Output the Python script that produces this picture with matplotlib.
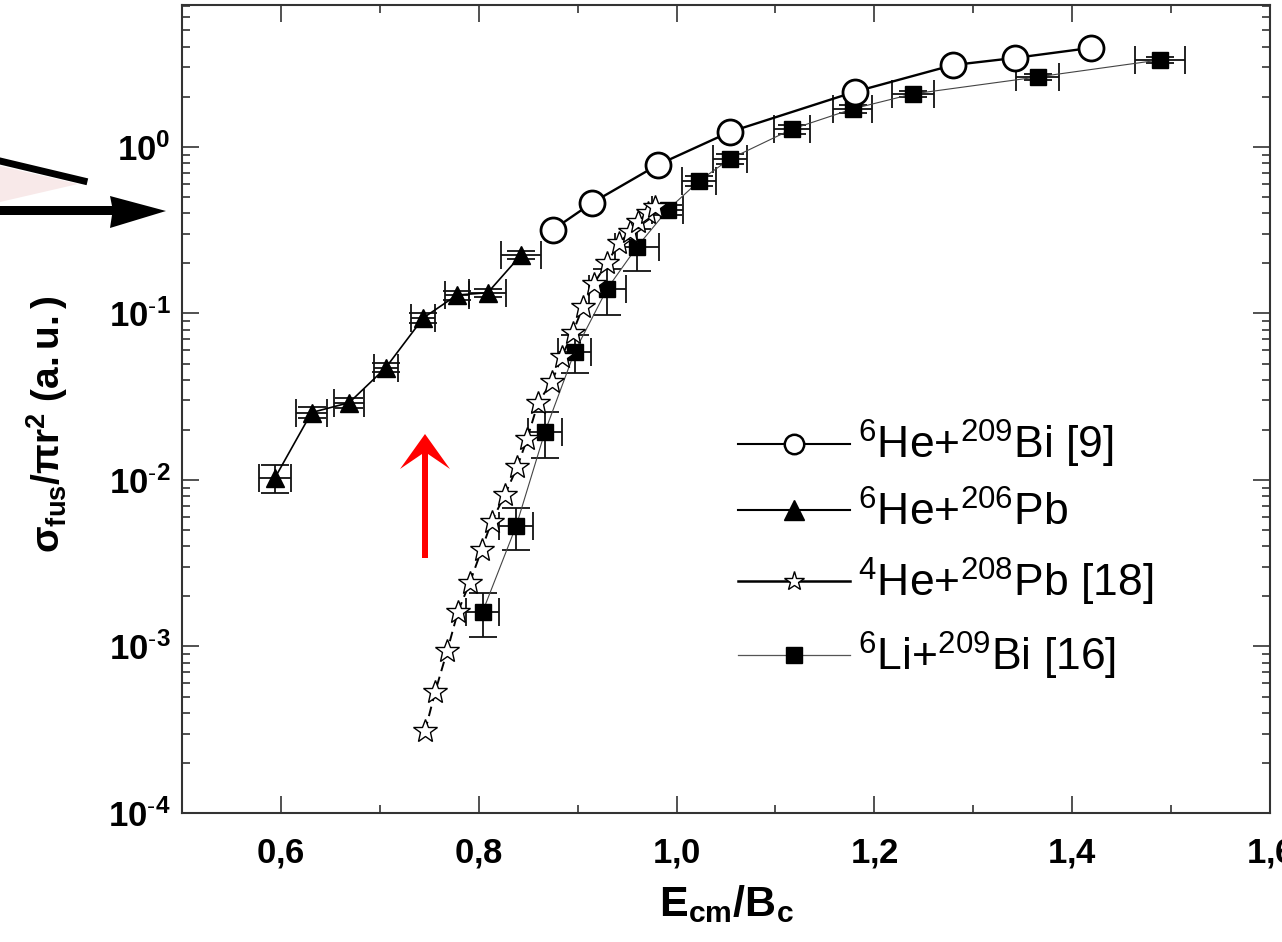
import numpy as np
import matplotlib
matplotlib.use('Agg')
import matplotlib.pyplot as plt
from matplotlib import font_manager
from matplotlib.lines import Line2D
from matplotlib.patches import Polygon
from matplotlib.ticker import FixedLocator, FuncFormatter, LogLocator, NullFormatter

# 6He + 209Bi [9]
he6_bi_x = [0.875, 0.9145, 0.981, 1.054, 1.180, 1.2795, 1.342, 1.419]
he6_bi_y = [0.318, 0.461, 0.780, 1.23, 2.14, 3.10, 3.42, 3.93]

# 6He + 206Pb
he6_pb_x = [0.594, 0.631, 0.669, 0.706, 0.744, 0.778, 0.809, 0.843]
he6_pb_y = [0.0103, 0.0254, 0.0291, 0.0472, 0.094, 0.129, 0.133, 0.225]
he6_pb_xerr = [0.016, 0.016, 0.015, 0.012, 0.012, 0.012, 0.019, 0.020]
he6_pb_yerr = [0.002, 0.002, 0.002, 0.003, 0.006, 0.008, 0.008, 0.012]

# 4He + 208Pb [18]
he4_pb_x = [0.7457, 0.7558, 0.768, 0.779, 0.791, 0.803, 0.813, 0.8266, 0.8387, 0.8488,
            0.860, 0.874, 0.884, 0.895, 0.9054, 0.9165, 0.9297, 0.942, 0.953, 0.961,
            0.971, 0.978]
he4_pb_y = [3.10e-4, 5.30e-4, 9.35e-4, 1.62e-3, 2.42e-3, 3.82e-3, 5.62e-3, 8.17e-3,
            1.19e-2, 1.75e-2, 0.0291, 0.0389, 0.055, 0.0766, 0.1096, 0.151, 0.201,
            0.265, 0.309, 0.355, 0.402, 0.437]

# 6Li + 209Bi [16]
li6_bi_x = [0.804, 0.838, 0.867, 0.897, 0.930, 0.960, 0.991, 1.023, 1.054, 1.117,
            1.178, 1.239, 1.365, 1.489]
li6_bi_y = [0.00162, 0.00532, 0.0195, 0.0589, 0.141, 0.251, 0.419, 0.625, 0.847,
            1.28, 1.69, 2.08, 2.63, 3.33]
li6_bi_xerr = [0.017, 0.017, 0.017, 0.017, 0.019, 0.022, 0.016, 0.017, 0.017, 0.018,
               0.020, 0.021, 0.022, 0.025]
li6_bi_yerr = [0.00048, 0.0015, 0.006, 0.015, 0.043, 0.07, 0.03, 0.04, 0.06, 0.08,
               0.10, 0.10, 0.12, 0.15]

labels = [r'$^{6}$He+$^{209}$Bi [9]', r'$^{6}$He+$^{206}$Pb',
          r'$^{4}$He+$^{208}$Pb [18]', r'$^{6}$Li+$^{209}$Bi [16]']

names = {f.name for f in font_manager.fontManager.ttflist}
narrow = 'Liberation Sans Narrow' if 'Liberation Sans Narrow' in names else 'Liberation Sans'

plt.rcParams['font.family'] = ['Liberation Sans', 'DejaVu Sans']
plt.rcParams['mathtext.fontset'] = 'custom'
plt.rcParams['mathtext.rm'] = 'Liberation Sans'
plt.rcParams['mathtext.it'] = 'Liberation Sans:italic'
plt.rcParams['mathtext.bf'] = narrow + ':bold'

fig = plt.figure(figsize=(12.82, 9.42), dpi=100)
ax = fig.add_axes([182 / 1282, 1 - 813 / 942, 1088 / 1282, 808 / 942])

ec = '#111111'
ax.errorbar(li6_bi_x, li6_bi_y, xerr=li6_bi_xerr, yerr=li6_bi_yerr, fmt='s-', color='#444444',
            lw=0.8, mfc='black', mec='black', ms=11, ecolor=ec, elinewidth=1.3,
            capsize=10, capthick=1.3, zorder=3)
ax.plot(he4_pb_x, he4_pb_y, ls=(0, (5, 3)), color='black', lw=1.4, marker='*', ms=18,
        mfc='white', mec='black', mew=1.0, zorder=4)
ax.errorbar(he6_pb_x, he6_pb_y, xerr=he6_pb_xerr, yerr=he6_pb_yerr, fmt='^-', color='black',
            lw=1.2, ms=13, ecolor=ec, elinewidth=1.3, capsize=10, capthick=1.3, zorder=5)
ax.plot(he6_bi_x, he6_bi_y, 'o-', color='black', lw=1.7, ms=18, mfc='white', mec='black',
        mew=2.0, zorder=6)

ax.set_xlim(0.5, 1.6)
ax.set_yscale('log')
ax.set_ylim(1e-4, 10 ** 0.852)

ax.xaxis.set_major_locator(FixedLocator([0.6, 0.8, 1.0, 1.2, 1.4, 1.6]))
ax.xaxis.set_minor_locator(FixedLocator([0.7, 0.9, 1.1, 1.3, 1.5]))
ax.xaxis.set_major_formatter(FuncFormatter(lambda v, p: r'$\mathbf{%s}$' % f'{v:.1f}'.replace('.', '{,}')))
ax.yaxis.set_major_locator(FixedLocator([1e-4, 1e-3, 1e-2, 1e-1, 1e0]))
ax.yaxis.set_minor_locator(LogLocator(base=10, subs=np.arange(2, 10)))
ax.yaxis.set_minor_formatter(NullFormatter())


def ylab(v, p):
    e = round(np.log10(v))
    if e < 0:
        return r'$\mathbf{10^{\text{-}%d}}$' % (-e)
    return r'$\mathbf{10^{%d}}$' % e


ax.yaxis.set_major_formatter(FuncFormatter(ylab))

ax.tick_params(which='both', direction='in', top=True, right=True, color='#333333', width=1.2)
ax.tick_params(which='major', length=12, labelsize=25)
ax.tick_params(which='minor', length=6)
ax.tick_params(axis='x', pad=17)
ax.tick_params(axis='y', pad=8)
for s in ax.spines.values():
    s.set_linewidth(1.5)
    s.set_color('#333333')

ax.set_xlabel(r'$\mathbf{E_{cm}/B_c}$', fontsize=31, labelpad=10)
ax.set_ylabel(r'$\mathbf{\sigma_{fus}/\pi r^2}$ $\mathbf{(a.u.)}$', fontsize=28)
ax.yaxis.set_label_coords(-0.103, 0.481)

handles = [
    Line2D([], [], color='black', lw=1.5, marker='o', ms=14, mfc='white', mec='black', mew=1.8),
    Line2D([], [], color='black', lw=1.5, marker='^', ms=14, mfc='black', mec='black'),
    Line2D([], [], color='black', lw=1.8, marker='*', ms=15, mfc='white', mec='black', mew=1.0),
    Line2D([], [], color='#555555', lw=0.9, marker='s', ms=12, mfc='black', mec='black'),
]
ax.legend(handles, labels, loc='upper left', bbox_to_anchor=(0.491, 0.516), frameon=False,
          fontsize=32, handlelength=2.5, handletextpad=0.2, labelspacing=0.48, borderpad=0)


# decorations drawn in figure pixel coordinates (y from top)
def px(points):
    return [(x / 100, (942 - y) / 100) for x, y in points]


fig.patches.append(Polygon(px([(0, 166), (78, 184), (0, 202)]), closed=True, fc='#f8e9e9',
                           ec='none', transform=fig.dpi_scale_trans, figure=fig))
fig.add_artist(Line2D([0, 0.84], [(942 - 161) / 100, (942 - 181) / 100], color='black', lw=5,
                      transform=fig.dpi_scale_trans))
fig.patches.append(Polygon(px([(0, 206), (112, 206), (110, 196), (166, 211), (110, 228),
                               (112, 215), (0, 215)]), closed=True, fc='black', ec='none',
                           transform=fig.dpi_scale_trans, figure=fig))
fig.patches.append(Polygon(px([(422, 558), (422, 454), (400, 469), (425, 434), (450, 469),
                               (428, 454), (428, 558)]), closed=True, fc='#ff0000', ec='none',
                           transform=fig.dpi_scale_trans, figure=fig))

fig.savefig('out.png', dpi=100)
